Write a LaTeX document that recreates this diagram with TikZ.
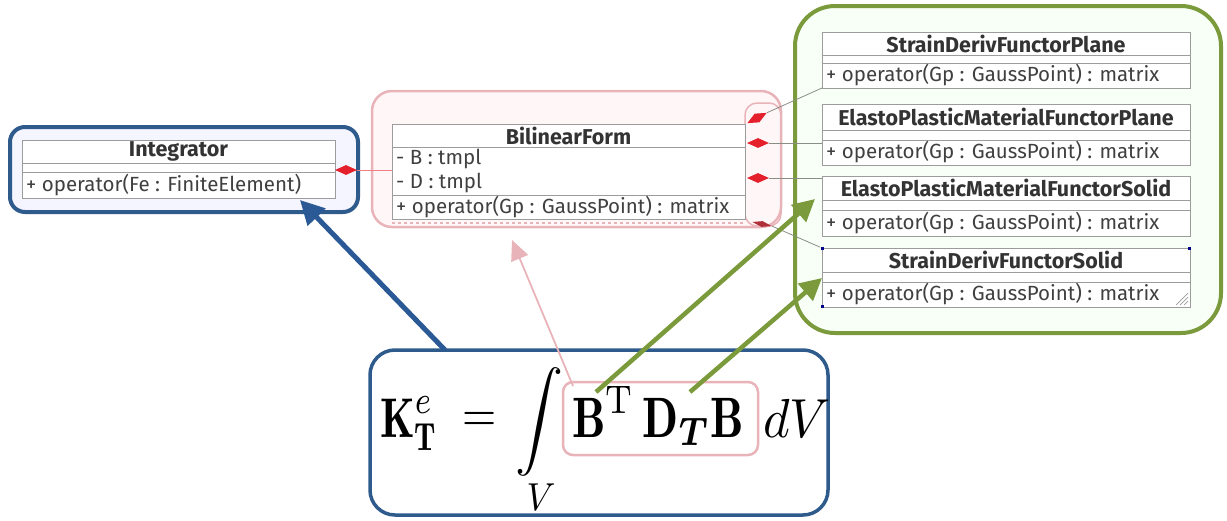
\documentclass[tikz,border=0pt]{standalone}
\usepackage{fontspec}
\setsansfont{Fira Sans}
\usepackage{amsmath,bm}
\usetikzlibrary{shapes.geometric,arrows.meta}
\definecolor{dblue}{HTML}{2E5A8C}
\definecolor{ablue}{HTML}{2A5996}
\definecolor{pinkc}{HTML}{E9B4B9}
\definecolor{greenc}{HTML}{7B9A3B}
\definecolor{gridc}{HTML}{9C9C9C}
\definecolor{redd}{HTML}{E3202B}
\definecolor{darkred}{HTML}{B0303A}
\definecolor{connc}{HTML}{8A8F86}
\tikzset{
  umlbox/.style={draw=gridc, fill=white, line width=0.8pt, inner sep=0, rectangle},
  umlline/.style={draw=gridc, line width=0.8pt},
  umltitle/.style={font=\sffamily\bfseries\fontsize{21.5}{24}\selectfont, text=black!80, inner sep=0},
  umltext/.style={font=\sffamily\fontsize{20.5}{23}\selectfont, text=black!75, inner sep=0, anchor=west},
  diam/.style={diamond, fill=redd, aspect=2.2, minimum width=22pt, minimum height=10pt, inner sep=0},
  conn/.style={draw=connc, line width=0.8pt},
  handle/.style={fill=blue!55!black, minimum size=3pt, inner sep=0, rectangle},
  fml/.style={inner sep=0},
}
\newcommand\fm[3]{\scalebox{#1}[#2]{$\displaystyle #3$}}
\newcommand\umlcls[9]{%
  \node[umlbox, minimum width={#3-#2}, minimum height={#7-#4}] (#1) at ({(#2+#3)/2},{(#4+#7)/2}) {};
  \draw[umlline] (#2,#5) -- (#3,#5) (#2,#6) -- (#3,#6);
  \node[umltitle] (#1-t) at ({(#2+#3)/2},{(#4+#5)/2}) {#8};
  \node[umltext] (#1-m) at ({#2+4},{(#6+#7)/2}) {#9};
}
\begin{document}
\begin{tikzpicture}[x=1pt,y=-1pt]
\useasboundingbox (0,0) rectangle (1227,520);
% outer group boxes
\draw[dblue, line width=4pt, fill=blue!4!white, rounded corners=15pt] (10,127) rectangle (358,212);
\draw[pinkc, line width=2.5pt, fill=red!3!white, rounded corners=20pt] (372,91) rectangle (781,227);
\draw[greenc, line width=4pt, fill=green!3!white, rounded corners=40pt] (795,6) rectangle (1221,333);
\draw[pinkc, line width=1.5pt, rounded corners=12pt] (745,103) rectangle (781,226);

% Integrator
\umlcls{integ}{22}{335}{140}{163}{172}{198}{Integrator}{+ operator(Fe : FiniteElement)}

% BilinearForm
\node[umlbox, minimum width=353pt, minimum height=95pt] (bil) at (568.5,171.5) {};
\draw[umlline] (392,147) -- (745,147) (392,195) -- (745,195);
\node[umltitle] (bil-t) at (568.5,135.5) {BilinearForm};
\node[umltext] (bil-a1) at (396,159) {- B : tmpl};
\node[umltext] (bil-a2) at (396,183) {- D : tmpl};
\node[umltext] (bil-m) at (396,207) {+ operator(Gp : GaussPoint) : matrix};
\draw[pinkc, line width=1.2pt, dashed] (392,223) -- (745,223);

% Right classes
\umlcls{sdp}{822}{1190}{32}{55}{63}{88}{StrainDerivFunctorPlane}{+ operator(Gp : GaussPoint) : matrix}
\umlcls{epp}{822}{1190}{104}{130}{140}{165}{ElastoPlasticMaterialFunctorPlane}{+ operator(Gp : GaussPoint) : matrix}
\umlcls{eps}{822}{1190}{176}{200}{210}{236}{ElastoPlasticMaterialFunctorSolid}{+ operator(Gp : GaussPoint) : matrix}
\umlcls{sds}{822}{1190}{248}{272}{282}{307}{StrainDerivFunctorSolid}{+ operator(Gp : GaussPoint) : matrix}
\node[handle] (h1) at (822,248) {};
\node[handle] (h2) at (1189,248) {};
\node[handle] (h3) at (822,306) {};
\draw[gridc, line width=0.7pt] (1176,305) -- (1188,293) (1180,305) -- (1188,297) (1184,305) -- (1188,301);

% composition diamonds
\node[diam] (dint) at (346,170) {};
\node[diam, rotate=28] (d1) at (757,118) {};
\node[diam] (d2) at (758,143) {};
\node[diam] (d3) at (758,178) {};
\node[diamond, fill=darkred, aspect=3.5, minimum width=20pt, minimum height=6pt, inner sep=0, rotate=-12] (d4) at (762,224) {};

\coordinate (bilL) at (392,170);
\coordinate (sdpC) at (822,88);
\coordinate (eppC) at (822,143);
\coordinate (epsC) at (822,178);
\draw[pinkc!70!red, line width=0.8pt] (dint.east) -- (bilL);
\draw[conn] (d1.east) -- (sdpC);
\draw[conn] (d2.east) -- (eppC);
\draw[conn] (d3.east) -- (epsC);
\draw[conn] (d4.east) -- (h1);

% formula
\draw[dblue, line width=3.5pt, fill=white, rounded corners=25pt] (370,350) rectangle (828,515);
\node[draw=pinkc, line width=2.5pt, rounded corners=10pt, minimum width=195pt, minimum height=73pt, inner sep=0] (bdb) at (660.5,418.5) {};
\node[fml, anchor=base west] (kt) at (380,437) {\fm{4.4}{5.6}{\mathbf{K}^{e}_{\mathbf{T}}}};
\node[fml] (eq) at (480,422) {\fm{4.4}{5.2}{=}};
\node[fml] (intg) at (539,422) {\fm{4.8}{4.9}{\int}};
\node[fml] (intv) at (541,497) {\fm{3.6}{3.9}{V}};
\node[fml, anchor=base] (bdbt) at (658,437) {\fm{4.7}{5.7}{\mathbf{B}^{\mathrm{T}}\,\mathbf{D}_{\bm{T}}\mathbf{B}}};
\node[fml, anchor=base west] (dv) at (763,437) {\fm{5.1}{5.5}{dV}};

% arrows
\coordinate (fa) at (445,350);
\coordinate (ia) at (300,200);
\coordinate (pa1) at (573,386);
\coordinate (pa2) at (512,240);
\coordinate (ga1) at (596,392);
\coordinate (ga2) at (815,199);
\coordinate (gb1) at (690,392);
\coordinate (gb2) at (822,278);
\draw[ablue, line width=5pt, -{Triangle[length=24pt,width=24pt]}] (fa) -- (ia);
\draw[pinkc, line width=1.8pt, -{Triangle[length=20pt,width=18pt]}] (pa1) -- (pa2);
\draw[greenc, line width=4.5pt, -{Triangle[length=22pt,width=22pt]}] (ga1) -- (ga2);
\draw[greenc, line width=4.5pt, -{Triangle[length=22pt,width=22pt]}] (gb1) -- (gb2);
\end{tikzpicture}
\end{document}
